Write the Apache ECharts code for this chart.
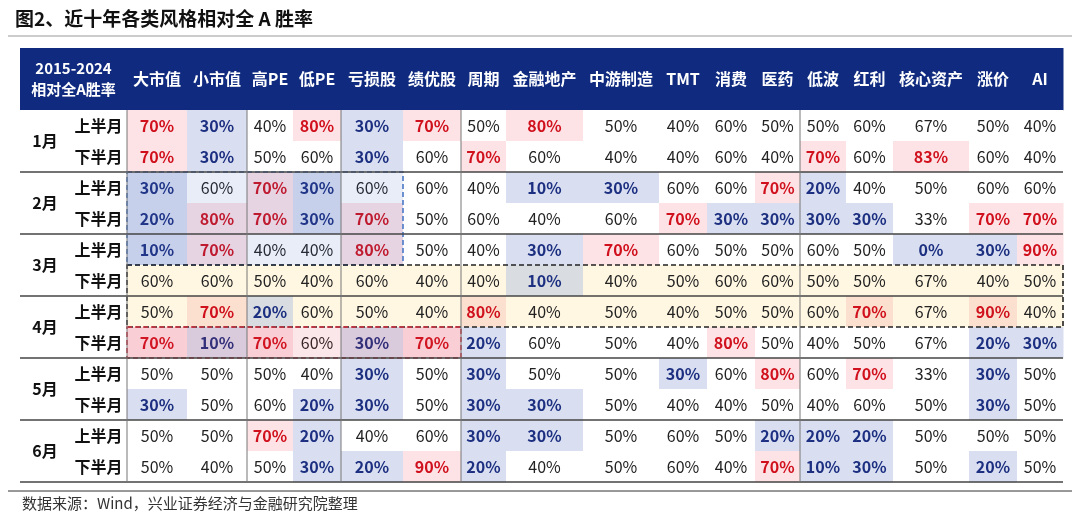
<!DOCTYPE html>
<html>
<head>
<meta charset="utf-8">
<script src="https://cdn.jsdelivr.net/npm/echarts@6/dist/echarts.min.js"></script>
<style>html,body{margin:0;padding:0;background:#fff}#main{width:1080px;height:520px}</style>
</head>
<body>
<div id="main"></div>
<script>
// 数据
var styles = ['大市值','小市值','高PE','低PE','亏损股','绩优股','周期','金融地产','中游制造','TMT','消费','医药','低波','红利','核心资产','涨价','AI'];
var months = ['1月','2月','3月','4月','5月','6月'];
var halves = ['上半月','下半月'];
var r1a = [70,30,40,80,30,70,50,80,50,40,60,50,50,60,67,50,40];
var r1b = [70,30,50,60,30,60,70,60,40,40,60,40,70,60,83,60,40];
var r2a = [30,60,70,30,60,60,40,10,30,60,60,70,20,40,50,60,60];
var r2b = [20,80,70,30,70,50,60,40,60,70,30,30,30,30,33,70,70];
var r3a = [10,70,40,40,80,50,40,30,70,60,50,50,60,50,0,30,90];
var r3b = [60,60,50,40,60,40,40,10,40,50,60,60,50,50,67,40,50];
var r4a = [50,70,20,60,50,40,80,40,50,40,50,50,60,70,67,90,40];
var r4b = [70,10,70,60,30,70,20,60,50,40,80,50,40,50,67,20,30];
var r5a = [50,50,50,40,30,50,30,50,50,30,60,80,60,70,33,30,50];
var r5b = [30,50,60,20,30,50,30,30,50,40,40,50,40,60,50,30,50];
var r6a = [50,50,70,20,40,60,30,30,50,60,50,20,20,20,50,50,50];
var r6b = [50,40,50,30,20,90,20,40,50,60,40,70,10,30,50,20,50];
var rows = [r1a,r1b,r2a,r2b,r3a,r3b,r4a,r4b,r5a,r5b,r6a,r6b];

// 版式
var colW = [50,57,60,60,46,48,62,58,45,77,76,48,48,45,46,47,76,48,46];
var edges = [0];
colW.forEach(function (w) { edges.push(edges[edges.length - 1] + w); });
var HDR = 2; // 表头占两行高度
var FONT = '"Noto Sans CJK SC", "Noto Sans", sans-serif';

var cellData = [];
cellData.push([edges[0], edges[2], 0, HDR, '2015-2024\n相对全A胜率', 'hdr']);
styles.forEach(function (s, j) { cellData.push([edges[j + 2], edges[j + 3], 0, HDR, s, 'hdr']); });
months.forEach(function (m, i) { cellData.push([edges[0], edges[1], HDR + i * 2, HDR + i * 2 + 2, m, 'lab']); });
rows.forEach(function (r, i) {
  cellData.push([edges[1], edges[2], HDR + i, HDR + i + 1, halves[i % 2], 'lab']);
  r.forEach(function (v, j) {
    var k = v >= 70 ? 'hi' : (v <= 30 ? 'lo' : 'mid');
    var yel = (i === 5 || i === 6);
    cellData.push([edges[j + 2], edges[j + 3], HDR + i, HDR + i + 1, v + '%', k + (yel ? 'Y' : '')]);
  });
});

// 分隔线和虚线框
var lineData = [];
for (var m = 1; m <= 6; m++) lineData.push([edges[0], edges[19], HDR + m * 2, HDR + m * 2, '', 'h']);
[2, 4, 6, 8, 14].forEach(function (c) { lineData.push([edges[c], edges[c], HDR, HDR + 12, '', 'v']); });
var boxData = [
  [edges[2], edges[7], HDR + 2, HDR + 5, '', 'rgba(70,110,200,0.12)|#4a78c8'],
  [edges[2], edges[19], HDR + 5, HDR + 7, '', 'rgba(255,215,110,0.0)|#222'],
  [edges[2], edges[8], HDR + 7, HDR + 8, '', 'rgba(220,60,80,0.12)|#d03040']
];

var bgMap = { hi: '#fde3e6', lo: '#d9dff0', mid: '#ffffff', hiY: '#fbe0cf', loY: '#d9dde2', midY: '#fff7e2' };

function rectOf(api) {
  var p0 = api.coord([api.value(0), api.value(2)]);
  var p1 = api.coord([api.value(1), api.value(3)]);
  return { x: p0[0], y: p0[1], width: p1[0] - p0[0], height: p1[1] - p0[1] };
}

var chart = echarts.init(document.getElementById('main'));
chart.setOption({
  animation: false,
  title: {
    text: '图2、近十年各类风格相对全 A 胜率', left: 10, top: 4,
    textStyle: { fontFamily: FONT, fontSize: 19, fontWeight: 'bold', color: '#111' }
  },
  grid: { left: 20, top: 48, width: edges[19], height: 14 * 31 },
  xAxis: { type: 'value', min: 0, max: edges[19], show: false },
  yAxis: { type: 'value', min: 0, max: HDR + 12, inverse: true, show: false },
  graphic: [
    { type: 'line', shape: { x1: 8, y1: 36, x2: 1072, y2: 36 }, style: { stroke: '#999', lineWidth: 1 } },
    { type: 'line', shape: { x1: 8, y1: 491, x2: 1072, y2: 491 }, style: { stroke: '#333', lineWidth: 1 } },
    { type: 'text', left: 22, top: 496, style: { text: '数据来源：Wind，兴业证券经济与金融研究院整理', fontFamily: FONT, fontSize: 15, fill: '#333' } }
  ],
  series: [{
    type: 'custom',
    data: cellData,
    z: 1,
    renderItem: function (params, api) {
      var r = rectOf(api);
      var kind = cellData[params.dataIndex][5];
      var txt = cellData[params.dataIndex][4];
      var fill = '#fff', color = '#222', weight = 'normal', size = 16;
      if (kind === 'hdr') { fill = '#0f2a7f'; color = '#fff'; weight = 'bold'; size = 16; }
      else if (kind === 'lab') { color = '#111'; weight = 'bold'; }
      else {
        fill = bgMap[kind];
        if (kind.indexOf('hi') === 0) { color = '#d0101c'; weight = 'bold'; }
        if (kind.indexOf('lo') === 0) { color = '#1c2f80'; weight = 'bold'; }
      }
      return {
        type: 'group',
        children: [
          { type: 'rect', shape: { x: r.x, y: r.y, width: r.width + 0.5, height: r.height + 0.5 }, style: { fill: fill } },
          { type: 'text', x: r.x + r.width / 2, y: r.y + r.height / 2,
            style: { text: txt, align: 'center', verticalAlign: 'middle', fill: color, fontFamily: FONT,
              fontSize: kind === 'hdr' && txt.indexOf('\n') > 0 ? 15 : size, fontWeight: weight, lineHeight: 21 } }
        ]
      };
    }
  }, {
    type: 'custom',
    data: boxData,
    z: 2,
    renderItem: function (params, api) {
      var r = rectOf(api);
      var st = boxData[params.dataIndex][5].split('|');
      return { type: 'rect', shape: r, style: { fill: st[0], stroke: st[1], lineWidth: 1.6, lineDash: [5, 3] } };
    }
  }, {
    type: 'custom',
    data: lineData,
    z: 3,
    renderItem: function (params, api) {
      var p0 = api.coord([api.value(0), api.value(2)]);
      var p1 = api.coord([api.value(1), api.value(3)]);
      var h = lineData[params.dataIndex][5] === 'h';
      return { type: 'line', shape: { x1: p0[0], y1: p0[1], x2: p1[0], y2: p1[1] },
        style: { stroke: h ? '#444' : '#777', lineWidth: h ? 1.5 : 1 } };
    }
  }]
});
</script>
</body>
</html>
